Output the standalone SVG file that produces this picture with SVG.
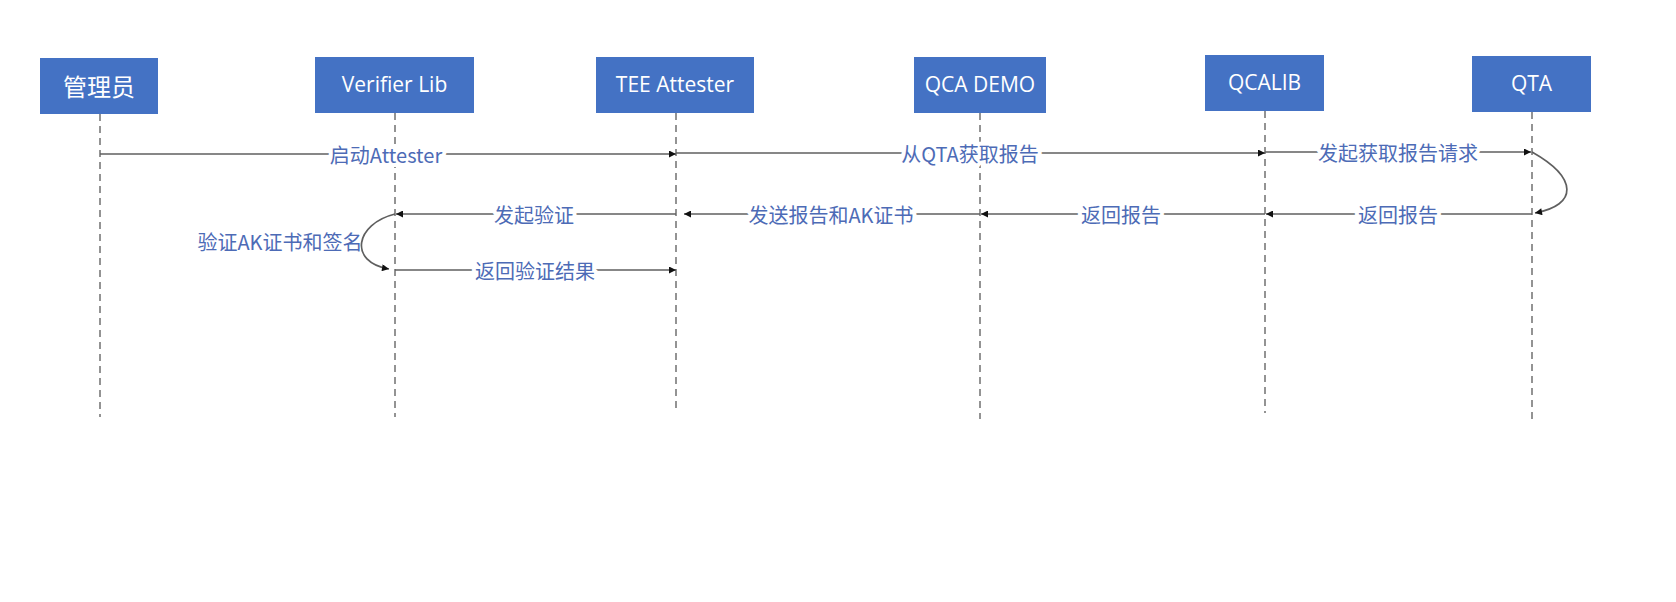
<svg xmlns="http://www.w3.org/2000/svg" width="1676" height="602" viewBox="0 0 1676 602">
<style>
.box{fill:#4472C4;}
.bt{fill:#ffffff;font-family:"Open Sans","Noto Sans","Noto Sans CJK SC",sans-serif;font-size:21px;text-anchor:middle;dominant-baseline:central;}
.bt-cn{font-family:"Noto Sans CJK SC",sans-serif;font-size:24px;}
.life{stroke:#5a5a5a;stroke-width:1.3;stroke-dasharray:7 5;fill:none;}
.msg{stroke:#5f5f5f;stroke-width:1.7;fill:none;marker-end:url(#ah);}
.lbl{fill:#4d6bb6;font-family:"Noto Sans CJK SC",sans-serif;font-size:20px;text-anchor:middle;dominant-baseline:central;stroke:#ffffff;stroke-width:8;paint-order:stroke;stroke-linejoin:round;}
.lbl2{fill:#4d6bb6;font-family:"Noto Sans CJK SC",sans-serif;font-size:20px;text-anchor:middle;dominant-baseline:central;}
</style>
<defs>
<marker id="ah" viewBox="0 0 10 10" refX="10" refY="5" markerWidth="9" markerHeight="7" markerUnits="userSpaceOnUse" orient="auto">
<path d="M0,0 L10,5 L0,10 Z" fill="#111"/>
</marker>
</defs>
<rect width="1676" height="602" fill="#ffffff"/>

<g id="lifelines">
<line class="life" x1="100" y1="114" x2="100" y2="417"/>
<line class="life" x1="395" y1="113" x2="395" y2="417"/>
<line class="life" x1="676" y1="113" x2="676" y2="411"/>
<line class="life" x1="980" y1="113" x2="980" y2="419"/>
<line class="life" x1="1265" y1="111" x2="1265" y2="413"/>
<line class="life" x1="1532" y1="112" x2="1532" y2="423"/>
</g>

<g id="node-admin"><rect class="box" x="40" y="58" width="118" height="56"/><text class="bt bt-cn" x="99" y="85">管理员</text></g>
<g id="node-verifier"><rect class="box" x="315" y="57" width="159" height="56"/><text class="bt" x="394.5" y="84">Verifier Lib</text></g>
<g id="node-tee"><rect class="box" x="596" y="57" width="158" height="56"/><text class="bt" x="675" y="84">TEE Attester</text></g>
<g id="node-qcademo"><rect class="box" x="914" y="57" width="132" height="56"/><text class="bt" x="980" y="84">QCA DEMO</text></g>
<g id="node-qcalib"><rect class="box" x="1205" y="55" width="119" height="56"/><text class="bt" x="1264.5" y="82">QCALIB</text></g>
<g id="node-qta"><rect class="box" x="1472" y="56" width="119" height="56"/><text class="bt" x="1531.5" y="83">QTA</text></g>

<g id="connectors">
<path class="msg" d="M100 154 H676"/>
<path class="msg" d="M676 153 H1265"/>
<path class="msg" d="M1265 152 H1531"/>
<path class="msg" d="M1532 152 C1578 178 1578 205 1535 213"/>
<path class="msg" d="M1532 214 H1266"/>
<path class="msg" d="M1265 214 H981"/>
<path class="msg" d="M980 214 H684"/>
<path class="msg" d="M676 214 H396"/>
<path class="msg" d="M395 214 C355 224 348 262 389 269"/>
<path class="msg" d="M395 270 H676"/>
</g>

<g id="labels">
<text class="lbl" x="386" y="154">启动Attester</text>
<text class="lbl" x="970" y="153">从QTA获取报告</text>
<text class="lbl" x="1398" y="152">发起获取报告请求</text>
<text class="lbl" x="1398" y="214">返回报告</text>
<text class="lbl" x="1121" y="214">返回报告</text>
<text class="lbl" x="831" y="214">发送报告和AK证书</text>
<text class="lbl" x="534" y="214">发起验证</text>
<text class="lbl" x="535" y="270">返回验证结果</text>
<text class="lbl2" x="280" y="241">验证AK证书和签名</text>
</g>
</svg>
